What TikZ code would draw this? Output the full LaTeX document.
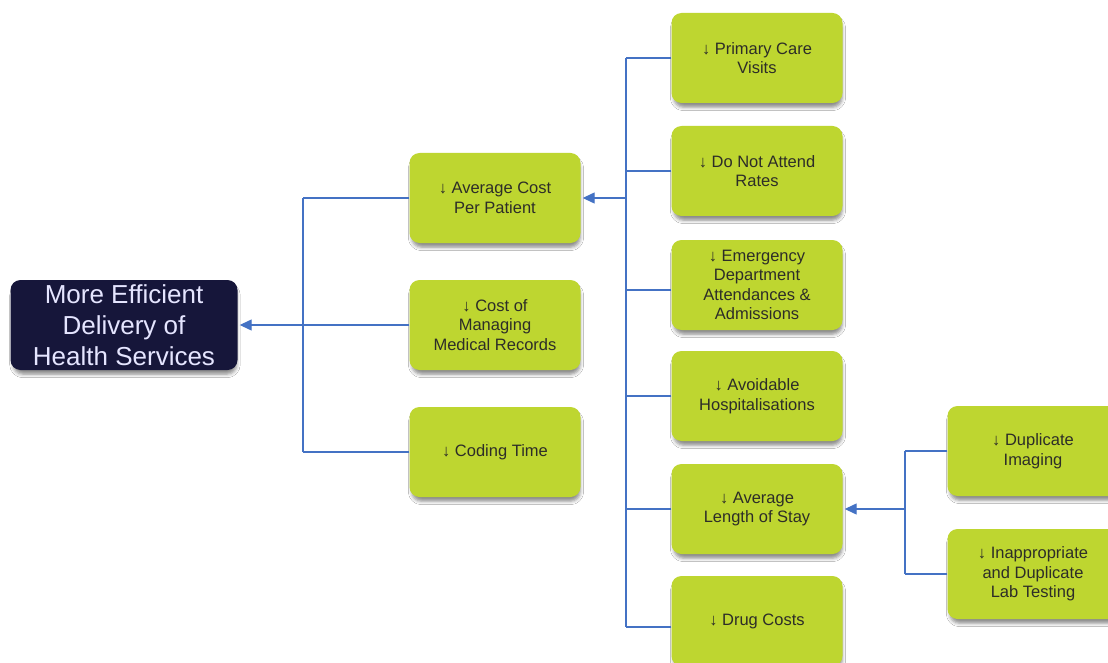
\documentclass[tikz,border=0pt]{standalone}
\usepackage{fontspec}
\setmainfont{Liberation Sans}
\usetikzlibrary{arrows.meta,shadows.blur}

\definecolor{leaf}{RGB}{190,214,48}
\definecolor{navy}{RGB}{22,22,58}
\definecolor{wire}{RGB}{68,114,196}
\definecolor{ink}{RGB}{45,45,40}

\tikzset{
  box/.style={rounded corners=10pt, minimum width=171pt, minimum height=90pt,
    inner sep=2pt, align=center, fill=leaf, text=ink,
    font=\fontsize{16.5}{19.5}\selectfont,
    blur shadow={shadow xshift=1pt, shadow yshift=-5pt, shadow scale=0.985,
      shadow blur radius=3.5pt, shadow opacity=45}},
  goal/.style={box, fill=navy, text=white!90!blue, minimum width=227pt,
    font=\fontsize{26}{31}\selectfont},
  conn/.style={draw=wire, line width=1.3pt},
  feed/.style={conn, -{Triangle[length=12pt,width=11pt]}, shorten >=2pt},
}

\begin{document}
\begin{tikzpicture}[x=1pt,y=-1pt]
\useasboundingbox (0,0) rectangle (1108,663);
\fill[white] (0,0) rectangle (1108,663);

% bus lines (vertical spines)
\coordinate (busA) at (303,0);
\coordinate (busB) at (626,0);
\coordinate (busC) at (905,0);

% root goal
\node[goal] (goal) at (124,325) {More Efficient\\Delivery of\\Health Services};

% second level
\node[box] (avg)  at (495,198) {↓ Average Cost\\Per Patient};
\node[box] (rec)  at (495,325) {↓ Cost of\\Managing\\Medical Records};
\node[box] (code) at (495,452) {↓ Coding Time};

% third level
\node[box] (pcv)  at (757,58)  {↓ Primary Care\\Visits};
\node[box] (dna)  at (757,171) {↓ Do Not Attend\\Rates};
\node[box] (ed)   at (757,285) {↓ Emergency\\Department\\Attendances \&\\Admissions};
\node[box] (hosp) at (757,396) {↓ Avoidable\\Hospitalisations};
\node[box] (los)  at (757,509) {↓ Average\\Length of Stay};
\node[box] (drug) at (757,621) {↓ Drug Costs};

% fourth level
\node[box] (img)  at (1033,451) {↓ Duplicate\\Imaging};
\node[box] (lab)  at (1033,574) {↓ Inappropriate\\and Duplicate\\Lab Testing};

% entry points slightly below centre
\coordinate (edIn)   at ([yshift=-5pt]ed.west);
\coordinate (drugIn) at ([yshift=-6pt]drug.west);

% connectors: level 2 -> goal
\draw[conn] (busA |- avg.west) -- (busA |- code.west);
\draw[conn] (avg.west) -- (busA |- avg.west);
\draw[conn] (rec.west) -- (busA |- rec.west);
\draw[conn] (code.west) -- (busA |- code.west);
\draw[feed] (busA |- goal.east) -- (goal.east);

% connectors: level 3 -> average cost
\draw[conn] (busB |- pcv.west) -- (busB |- drugIn);
\draw[conn] (pcv.west) -- (busB |- pcv.west);
\draw[conn] (dna.west) -- (busB |- dna.west);
\draw[conn] (edIn) -- (busB |- edIn);
\draw[conn] (hosp.west) -- (busB |- hosp.west);
\draw[conn] (los.west) -- (busB |- los.west);
\draw[conn] (drugIn) -- (busB |- drugIn);
\draw[feed] (busB |- avg.east) -- (avg.east);

% connectors: level 4 -> length of stay
\draw[conn] (busC |- img.west) -- (busC |- lab.west);
\draw[conn] (img.west) -- (busC |- img.west);
\draw[conn] (lab.west) -- (busC |- lab.west);
\draw[feed] (busC |- los.east) -- (los.east);
\end{tikzpicture}
\end{document}
